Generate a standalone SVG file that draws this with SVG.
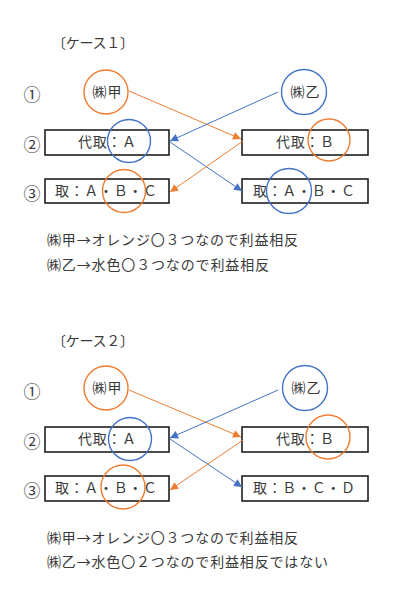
<svg xmlns="http://www.w3.org/2000/svg" width="400" height="607" viewBox="0 0 400 607">
<style>
text{font-family:"Noto Sans CJK JP","Noto Sans",sans-serif;fill:#3a3a3a;font-size:14px}
.num{font-size:17px;text-anchor:middle;dominant-baseline:central}
.mid{text-anchor:middle}
.box{fill:#fff;stroke:#1e1e1e;stroke-width:1.6}
.oc{fill:none;stroke:#ED7D31;stroke-width:1.4}
.bc{fill:none;stroke:#4472C4;stroke-width:1.4}
.oa{stroke:#ED7D31;stroke-width:1;fill:none;marker-end:url(#ao)}
.ba{stroke:#4472C4;stroke-width:1;fill:none;marker-end:url(#ab)}
</style>
<defs>
<marker id="ao" viewBox="0 0 10 10" refX="10" refY="5" markerWidth="9" markerHeight="8" markerUnits="userSpaceOnUse" orient="auto"><path d="M0,0L10,5L0,10z" fill="#ED7D31"/></marker>
<marker id="ab" viewBox="0 0 10 10" refX="10" refY="5" markerWidth="9" markerHeight="8" markerUnits="userSpaceOnUse" orient="auto"><path d="M0,0L10,5L0,10z" fill="#4472C4"/></marker>
</defs>

<!-- Case 1 -->
<g id="case1-title"><text x="52" y="48" textLength="82">〔ケース１〕</text></g>
<g id="case1-labels">
<text class="num" x="32" y="93">①</text>
<text class="num" x="32" y="143">②</text>
<text class="num" x="32" y="192">③</text>
</g>
<g id="c1-kou"><circle class="oc" cx="106" cy="92" r="22"/><text class="mid" x="107" y="97" textLength="29">㈱甲</text></g>
<g id="c1-otsu"><circle class="bc" cx="304" cy="92" r="22.5"/><text class="mid" x="305" y="97" textLength="29">㈱乙</text></g>
<g id="c1-l2"><rect class="box" x="45" y="130" width="124" height="25"/><text class="mid" x="107" y="147" textLength="58">代取：Ａ</text></g>
<g id="c1-r2"><rect class="box" x="242" y="130" width="126" height="25"/><text class="mid" x="305" y="147" textLength="58">代取：Ｂ</text></g>
<g id="c1-l3"><rect class="box" x="45" y="179" width="124" height="24"/><text class="mid" x="106" y="196" textLength="102">取：Ａ・Ｂ・Ｃ</text></g>
<g id="c1-r3"><rect class="box" x="242" y="179" width="126" height="24"/><text class="mid" x="304" y="196" textLength="102">取：Ａ・Ｂ・Ｃ</text></g>
<g id="c1-marks">
<circle class="bc" cx="129" cy="141" r="21.5"/>
<circle class="oc" cx="329" cy="140" r="21"/>
<circle class="oc" cx="124" cy="191" r="21.5"/>
<circle class="bc" cx="289" cy="191" r="22.5"/>
</g>
<g id="c1-connectors">
<line class="oa" x1="129" y1="91" x2="241" y2="139"/>
<line class="ba" x1="278" y1="92" x2="170" y2="141"/>
<line class="ba" x1="170" y1="142" x2="242" y2="191"/>
<line class="oa" x1="243" y1="141" x2="170" y2="192"/>
</g>
<g id="c1-notes">
<text x="47" y="245" textLength="251">㈱甲→オレンジ〇３つなので利益相反</text>
<text x="47" y="270" textLength="222">㈱乙→水色〇３つなので利益相反</text>
</g>

<!-- Case 2 -->
<g id="case2-title"><text x="52" y="346" textLength="82">〔ケース２〕</text></g>
<g id="case2-labels">
<text class="num" x="32" y="390">①</text>
<text class="num" x="32" y="440">②</text>
<text class="num" x="32" y="489">③</text>
</g>
<g id="c2-kou"><circle class="oc" cx="106" cy="388" r="22"/><text class="mid" x="107" y="393" textLength="29">㈱甲</text></g>
<g id="c2-otsu"><circle class="bc" cx="305" cy="388" r="22.5"/><text class="mid" x="306" y="393" textLength="29">㈱乙</text></g>
<g id="c2-l2"><rect class="box" x="45" y="427" width="124" height="25"/><text class="mid" x="107" y="444" textLength="58">代取：Ａ</text></g>
<g id="c2-r2"><rect class="box" x="242" y="427" width="126" height="25"/><text class="mid" x="305" y="444" textLength="58">代取：Ｂ</text></g>
<g id="c2-l3"><rect class="box" x="45" y="476" width="124" height="25"/><text class="mid" x="106" y="493" textLength="102">取：Ａ・Ｂ・Ｃ</text></g>
<g id="c2-r3"><rect class="box" x="242" y="476" width="126" height="25"/><text class="mid" x="304" y="493" textLength="102">取：Ｂ・Ｃ・Ｄ</text></g>
<g id="c2-marks">
<circle class="bc" cx="130" cy="439" r="21.5"/>
<circle class="oc" cx="328" cy="437" r="22"/>
<circle class="oc" cx="123" cy="487" r="22"/>
</g>
<g id="c2-connectors">
<line class="oa" x1="129" y1="390" x2="241" y2="437"/>
<line class="ba" x1="278" y1="390" x2="170" y2="438"/>
<line class="ba" x1="170" y1="439" x2="242" y2="487"/>
<line class="oa" x1="243" y1="440" x2="170" y2="490"/>
</g>
<g id="c2-notes">
<text x="47" y="543" textLength="251">㈱甲→オレンジ〇３つなので利益相反</text>
<text x="47" y="567" textLength="281">㈱乙→水色〇２つなので利益相反ではない</text>
</g>
</svg>
